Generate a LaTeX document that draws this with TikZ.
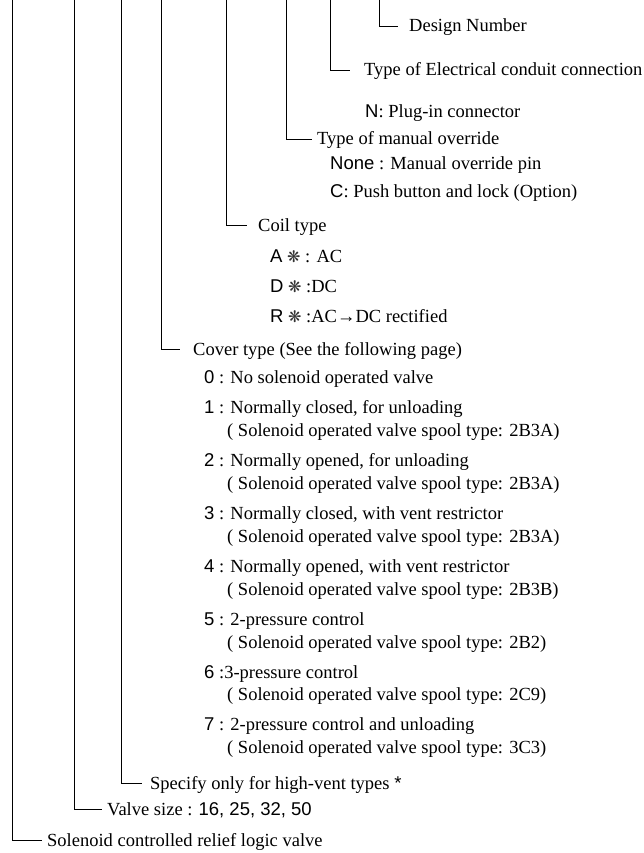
\documentclass[tikz,border=0pt]{standalone}
\usepackage{fontspec}
\setmainfont{Liberation Serif}
\newfontfamily\codefont{Liberation Sans}
\newfontfamily\symfont{DejaVu Sans}
\newcommand{\cd}[1]{{\codefont #1}}
\newcommand{\astk}{{\symfont\fontsize{16}{16}\selectfont\textcolor{black!80}{❋}}}
\begin{document}
\begin{tikzpicture}[x=1pt,y=-1pt,
  lbl/.style={inner sep=0pt, anchor=base west, font=\fontsize{18.5}{22}\selectfont, text=black},
  conn/.style={draw=black, line width=0.9pt}]
\useasboundingbox (0,0) rectangle (644,853);

% top coordinates of the vertical leader lines
\coordinate (t1) at (12.5,0);
\coordinate (t2) at (74,0);
\coordinate (t3) at (121,0);
\coordinate (t4) at (161,0);
\coordinate (t5) at (226,0);
\coordinate (t6) at (286,0);
\coordinate (t7) at (330,0);
\coordinate (t8) at (379,0);

% end coordinates of the horizontal ticks
\coordinate (e8) at (398,26);
\coordinate (e7) at (350,70);
\coordinate (e6) at (312,139);
\coordinate (e5) at (247,225);
\coordinate (e4) at (180,349);
\coordinate (e3) at (142,783);
\coordinate (e2) at (102,809);
\coordinate (e1) at (42,840);

% labels
\node[lbl] (design) at (409,32) {Design Number};
\node[lbl] (elec) at (364,76) {Type of Electrical conduit connection};
\node[lbl] (plug) at (365,118) {\cd{N}: Plug-in connector};
\node[lbl] (manual) at (317,145) {Type of manual override};
\node[lbl] (none) at (330,169) {\cd{None} : Manual override pin};
\node[lbl] (push) at (330,197) {\cd{C}: Push button and lock (Option)};
\node[lbl] (coil) at (258,231) {Coil type};
\node[lbl] (ac) at (270,262) {\cd{A} \astk{} : AC};
\node[lbl] (dc) at (270,292) {\cd{D} \astk{} :DC};
\node[lbl] (rect) at (270,322) {\cd{R} \astk{} :AC→DC rectified};
\node[lbl] (cover) at (193,355) {Cover type (See the following page)};
\node[lbl] (c0) at (204,383) {\cd{0} : No solenoid operated valve};
\node[lbl] (c1) at (204,413) {\cd{1} : Normally closed, for unloading};
\node[lbl] (c1s) at (227,436) {( Solenoid operated valve spool type: 2B3A)};
\node[lbl] (c2) at (204,466) {\cd{2} : Normally opened, for unloading};
\node[lbl] (c2s) at (227,489) {( Solenoid operated valve spool type: 2B3A)};
\node[lbl] (c3) at (204,519) {\cd{3} : Normally closed, with vent restrictor};
\node[lbl] (c3s) at (227,542) {( Solenoid operated valve spool type: 2B3A)};
\node[lbl] (c4) at (204,572) {\cd{4} : Normally opened, with vent restrictor};
\node[lbl] (c4s) at (227,595) {( Solenoid operated valve spool type: 2B3B)};
\node[lbl] (c5) at (204,625) {\cd{5} : 2-pressure control};
\node[lbl] (c5s) at (227,648) {( Solenoid operated valve spool type: 2B2)};
\node[lbl] (c6) at (204,678) {\cd{6} :3-pressure control};
\node[lbl] (c6s) at (227,700) {( Solenoid operated valve spool type: 2C9)};
\node[lbl] (c7) at (204,730) {\cd{7} : 2-pressure control and unloading};
\node[lbl] (c7s) at (227,753) {( Solenoid operated valve spool type: 3C3)};
\node[lbl] (spec) at (150,789) {Specify only for high-vent types \cd{*}};
\node[lbl] (size) at (107,815) {Valve size : \cd{16, 25, 32, 50}};
\node[lbl] (valve) at (47,846) {Solenoid controlled relief logic valve};

% leaders
\draw[conn] (t8) |- (e8);
\draw[conn] (t7) |- (e7);
\draw[conn] (t6) |- (e6);
\draw[conn] (t5) |- (e5);
\draw[conn] (t4) |- (e4);
\draw[conn] (t3) |- (e3);
\draw[conn] (t2) |- (e2);
\draw[conn] (t1) |- (e1);
\end{tikzpicture}
\end{document}
